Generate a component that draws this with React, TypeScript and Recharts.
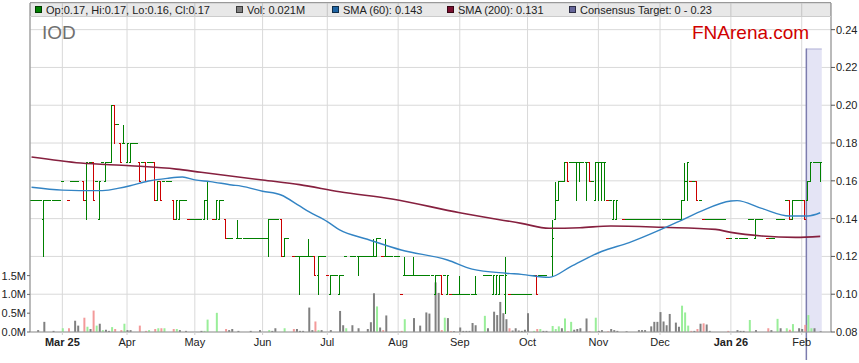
import React from 'react'
import {
  ComposedChart, Bar, Line, XAxis, YAxis, CartesianGrid, ReferenceArea, Cell,
} from 'recharts'

const W = 859
const H = 363
const PRICE_MIN = 0.08
const PRICE_MAX = 0.2541
const VOL_MAX = 8.75
const SLOTS = 260

const GREEN = '#008000'
const RED = '#cc0000'
const VOL_GREEN = '#99ee99'
const VOL_RED = '#f39a9a'
const VOL_GRAY = '#808080'
const FONT = '"Liberation Sans", Arial, sans-serif'

// month gridlines: weekday slot index + label
const monthTicks = [10, 31, 53, 75, 96, 119, 139, 161, 184, 204, 227, 250]
const monthLabels = ['Mar 25', 'Apr', 'May', 'Jun', 'Jul', 'Aug', 'Sep', 'Oct', 'Nov', 'Dec', 'Jan 26', 'Feb']
const boldLabels = ['Mar 25', 'Jan 26']
const priceTicks = [0.08, 0.1, 0.12, 0.14, 0.16, 0.18, 0.2, 0.22, 0.24]
const volTicks = [0, 0.5, 1, 1.5]

// one entry per weekday, in cents: number = flat day, [open, high, low, close], null = no bar
const bars: (number | number[] | null)[] = [
  15, 15, 15, 15, [14, 15, 12, 15], 15, 15, 15, 15, 15,
  16, null, 15, 16, 16, 16, null, [16, 16, 15, 15], [15, 17, 14, 17], 17,
  [17, 17, 15, 15], 16, [14, 16, 14, 16], 17, [16, 17, 16, 17], 17, [17, 20, 17, 20], [20, 20, 18, 19], 19, [18, 18, 17, 17],
  [18, 19, 18, 18], [17, 18, 17, 18], [17, 18, 17, 18], 18, 18, [17, 17, 16, 16], 17, [17, 17, 16, 16], 17, 17,
  [17, 17, 15, 15], [15, 16, 15, 16], [16, 16, 15, 15], 16, 16, 16, [15, 15, 14, 14], [14, 15, 14, 15], [14, 15, 14, 15], 15,
  15, 14, 14, 14, 14, 14, [14, 15, 14, 15], [15, 16, 14, 16], null, 14,
  [14, 15, 14, 15], [14, 15, 14, 15], 15, [14, 14, 13, 13], 13, 13, null, [13, 14, 13, 13], 13, 13,
  13, 13, 13, 13, 13, 13, 13, [13, 14, 12, 14], 14, 14,
  14, [14, 14, 12, 12], [12, 13, 12, 13], 13, null, 12, 12, [12, 12, 10, 12], 12, 12,
  [12, 13, 12, 12], 12, [12, 12, 11, 11], [11, 12, 10, 12], 12, 12, 11, [10, 11, 10, 11], 11, 11,
  [10, 11, 10, 11], 11, 12, null, 12, 12, [12, 12, 11, 12], 12, 12, 12,
  12, [12, 13, 12, 12], [12, 13, 12, 13], 13, 12, [12, 13, 12, 12], 12, 12, 12, 12,
  10, [11, 12, 11, 11], 11, 11, [11, 12, 11, 11], 11, 11, 11, 11, 11,
  11, [10, 11, 10, 11], 11, [11, 11, 10, 10], 11, [10, 11, 10, 11], 10, 10, 10, [10, 11, 10, 10],
  10, 10, 10, 10, [10, 11, 10, 10], null, null, 11, 11, 11,
  [10, 11, 10, 11], [10, 11, 10, 11], [10, 11, 10, 11], 11, [10, 12, 9, 11], 10, 10, 10, 10, 10,
  10, 10, 10, 11, [11, 11, 10, 10], 11, 11, 11, null, [12, 14, 11, 13],
  [14, 16, 14, 15], [15, 16, 15, 16], 16, [16, 17, 16, 17], [17, 17, 16, 16], 17, 17, [17, 17, 15, 17], [17, 17, 16, 17], 17,
  [17, 17, 15, 17], [17, 17, 16, 16], 16, [15, 17, 15, 17], [17, 17, 15, 17], [17, 17, 15, 17], [17, 17, 15, 17], 15, 15, [14, 15, 14, 15],
  [14, 15, 14, 15], null, 14, 14, 14, 14, 14, 14, 14, 14,
  14, 14, 14, 14, 14, 14, 14, 14, 14, 14,
  14, [14, 15, 14, 15], [15, 17, 15, 16], [16, 17, 15, 17], 16, 16, [16, 16, 15, 15], 15, 14, 14,
  14, 14, 14, 14, 14, 14, 13, 13, null, 13,
  13, 13, 13, 14, 14, [13, 14, 13, 14], 14, 14, null, 13,
  13, 13, 14, 14, 14, 15, [15, 15, 14, 14], [14, 15, 14, 15], 15, 15,
  15, [15, 15, 14, 14], [15, 16, 15, 16], [16, 17, 16, 17], 17, 17, [17, 17, 16, 17],
]

// daily volume, hundredths of a million shares
const volumes = [
  0, 0, 5, 0, 27, 0, 0, 3, 0, 0,
  10, 0, 10, 0, 30, 17, 0, 38, 14, 8,
  57, 17, 22, 5, 6, 3, 13, 8, 0, 5,
  22, 5, 5, 0, 0, 17, 0, 3, 5, 0,
  8, 10, 10, 10, 0, 0, 8, 8, 5, 0,
  3, 0, 0, 0, 0, 3, 3, 33, 0, 0,
  51, 0, 0, 8, 5, 8, 0, 3, 0, 0,
  0, 3, 0, 0, 5, 0, 0, 5, 3, 10,
  0, 0, 10, 0, 0, 8, 8, 3, 3, 0,
  65, 5, 28, 5, 5, 0, 0, 5, 0, 0,
  56, 18, 10, 0, 18, 0, 10, 0, 0, 8,
  26, 103, 68, 12, 5, 44, 0, 0, 0, 0,
  3, 34, 0, 0, 37, 0, 17, 0, 52, 49,
  0, 132, 104, 5, 38, 37, 2, 2, 0, 12,
  3, 3, 3, 24, 18, 0, 0, 43, 10, 0,
  54, 45, 80, 50, 34, 10, 4, 10, 4, 3,
  6, 50, 0, 3, 8, 8, 3, 3, 0, 16,
  8, 15, 10, 36, 2, 27, 6, 8, 10, 0,
  36, 2, 0, 38, 3, 5, 0, 2, 8, 5,
  3, 0, 0, 2, 0, 0, 0, 5, 5, 5,
  0, 15, 27, 27, 53, 28, 18, 48, 0, 25,
  14, 70, 52, 17, 3, 3, 8, 22, 23, 20,
  3, 0, 0, 0, 0, 0, 3, 0, 0, 5,
  3, 3, 0, 32, 0, 5, 0, 0, 0, 10,
  5, 0, 35, 10, 0, 10, 6, 21, 0, 10,
  8, 19, 45, 10, 10, 0, 2,
]

// moving averages at a few slots
const sma60Days = [0, 10, 21, 25, 28, 32, 38, 44, 49, 53, 58, 65, 68, 75, 81, 87, 90, 96, 100, 109, 120, 135, 143, 154, 159, 168, 175, 185, 194, 204, 210, 217, 227, 229, 237, 246, 252, 256]
const sma60Values = [0.1566, 0.1551, 0.1548, 0.1551, 0.156, 0.1574, 0.1599, 0.1613, 0.162, 0.1605, 0.1596, 0.1578, 0.1572, 0.1545, 0.1525, 0.1467, 0.1437, 0.1384, 0.134, 0.1291, 0.1234, 0.1181, 0.1133, 0.1111, 0.1105, 0.1089, 0.1146, 0.1226, 0.1273, 0.134, 0.1384, 0.1437, 0.1493, 0.1495, 0.1454, 0.1414, 0.1414, 0.1431]
const sma200Days = [0, 16, 32, 47, 55, 75, 87, 100, 117, 139, 159, 168, 178, 188, 205, 222, 227, 237, 248, 256]
const sma200Values = [0.1726, 0.1694, 0.168, 0.1662, 0.1645, 0.1604, 0.158, 0.1542, 0.1504, 0.1431, 0.1375, 0.1349, 0.1352, 0.1361, 0.1354, 0.1343, 0.1327, 0.1308, 0.1301, 0.1306]

// consensus target band
const targetStart = 252
const targetEnd = 256
const targetHigh = 0.23

const legendItems = [
  { x: 35, color: GREEN, text: 'Op:0.17, Hi:0.17, Lo:0.16, Cl:0.17' },
  { x: 236, color: '#808080', text: 'Vol: 0.021M' },
  { x: 332, color: '#1f64a3', text: 'SMA (60): 0.143' },
  { x: 447, color: '#7a0f2e', text: 'SMA (200): 0.131' },
  { x: 569, color: '#66669a', text: 'Consensus Target: 0 - 0.23' },
]

let prevClose: number | null = null
const data = Array.from({ length: SLOTS }, (_, k) => {
  const row: any = { k }
  const b = k < bars.length ? bars[k] : null
  if (b != null) {
    const [o, h, l, c] = typeof b === 'number' ? [b, b, b, b] : b
    const dir = prevClose == null ? 0 : Math.sign(c - prevClose)
    row.o = o / 100
    row.h = h / 100
    row.l = l / 100
    row.c = c / 100
    row.range = [PRICE_MIN, h / 100]
    row.color = c > o ? GREEN : c < o ? RED : dir < 0 ? RED : GREEN
    row.volColor = dir > 0 ? VOL_GREEN : dir < 0 ? VOL_RED : VOL_GRAY
    prevClose = c
  } else {
    row.volColor = VOL_GRAY
  }
  const v = volumes[k]
  row.vol = v ? v / 100 : null
  const i60 = sma60Days.indexOf(k)
  row.sma60 = i60 >= 0 ? sma60Values[i60] : null
  const i200 = sma200Days.indexOf(k)
  row.sma200 = i200 >= 0 ? sma200Values[i200] : null
  return row
})

function OhlcShape(props: any) {
  const { x, y, width, height, payload } = props
  if (!payload || payload.h == null || !height) return null
  const span = payload.h - PRICE_MIN
  const py = (p: number) => Math.round(y + ((payload.h - p) / span) * height) + 0.5
  const cx = Math.floor(x + width / 2)
  const left = Math.round(x)
  const right = Math.round(x + width)
  const col = payload.color
  return (
    <g shapeRendering="crispEdges" stroke={col} strokeWidth={1}>
      {payload.h > payload.l && (
        <line x1={cx + 0.5} x2={cx + 0.5} y1={py(payload.h)} y2={py(payload.l)} />
      )}
      <line x1={left} x2={cx + 1} y1={py(payload.o)} y2={py(payload.o)} />
      <line x1={cx} x2={right} y1={py(payload.c)} y2={py(payload.c)} />
    </g>
  )
}

function TargetShape(props: any) {
  const { x, y, width, height } = props
  if (x == null) return null
  return (
    <g>
      <rect x={x} y={y} width={width} height={height} fill="#e4e4f5" />
      <line x1={x} x2={x + width} y1={y + 0.5} y2={y + 0.5} stroke="#b4b4d8" />
      <line x1={x} x2={x} y1={y} y2={y + height + 28} stroke="#7c7cae" strokeWidth={1.5} />
    </g>
  )
}

function MonthTick(props: any) {
  const { x, y, payload } = props
  const label = monthLabels[monthTicks.indexOf(payload.value)]
  return (
    <text x={x} y={y + 9} textAnchor="middle" fontSize={11} fill="#222"
      fontWeight={boldLabels.includes(label) ? 700 : 400}>
      {label}
    </text>
  )
}

export default function App() {
  return (
    <div style={{ position: 'absolute', left: 0, top: 0, width: W, height: H, background: '#fff', fontFamily: FONT }}>
      <ComposedChart
        width={W} height={H} data={data}
        margin={{ top: 3, right: 0, bottom: 0, left: 0 }}
        barCategoryGap={0} barGap={0}
        style={{ fontFamily: FONT }}
      >
        <CartesianGrid xAxisId="main" yAxisId="price" stroke="#d9d9d9" />
        <XAxis
          xAxisId="main" dataKey="k" type="category" ticks={monthTicks} interval={0}
          tick={<MonthTick />} tickSize={3} tickLine={{ stroke: '#ccc' }}
          axisLine={{ stroke: '#999' }} height={31}
        />
        <XAxis xAxisId="vol" dataKey="k" type="category" hide />
        <YAxis
          yAxisId="vol" orientation="left" type="number" domain={[0, VOL_MAX]}
          ticks={volTicks} allowDataOverflow width={30} tickSize={3} tickMargin={1}
          tickFormatter={(v: number) => v.toFixed(1) + 'M'}
          tick={{ fontSize: 11, fill: '#222' }}
          axisLine={{ stroke: '#888' }} tickLine={{ stroke: '#666' }}
        />
        <YAxis
          yAxisId="price" orientation="right" type="number" domain={[PRICE_MIN, PRICE_MAX]}
          ticks={priceTicks} allowDataOverflow width={28} tickSize={4} tickMargin={1}
          tickFormatter={(v: number) => v.toFixed(2)}
          tick={{ fontSize: 11, fill: '#222' }}
          axisLine={{ stroke: '#888' }} tickLine={{ stroke: '#555' }}
        />
        <ReferenceArea
          xAxisId="main" yAxisId="price"
          x1={targetStart} x2={targetEnd} y1={PRICE_MIN} y2={targetHigh}
          shape={(p: any) => <TargetShape {...p} />}
        />
        <Bar xAxisId="vol" yAxisId="vol" dataKey="vol" barSize={2} isAnimationActive={false}>
          {data.map((d, i) => <Cell key={i} fill={d.volColor} />)}
        </Bar>
        <Bar
          xAxisId="main" yAxisId="price" dataKey="range" isAnimationActive={false}
          shape={(p: any) => <OhlcShape {...p} />}
        />
        <Line
          xAxisId="main" yAxisId="price" dataKey="sma200" type="monotone" stroke="#86203f"
          strokeWidth={1.6} dot={false} connectNulls isAnimationActive={false}
        />
        <Line
          xAxisId="main" yAxisId="price" dataKey="sma60" type="monotone" stroke="#3384c4"
          strokeWidth={1.4} dot={false} connectNulls isAnimationActive={false}
        />
      </ComposedChart>

      {/* legend band */}
      <div style={{
        position: 'absolute', left: 30, top: 2, width: 801, height: 13,
        background: 'rgba(0,0,0,0.09)', borderTop: '1px solid #999', borderBottom: '1px solid #ccc',
      }} />
      {legendItems.map((it, i) => (
        <React.Fragment key={i}>
          <div style={{
            position: 'absolute', left: it.x, top: 6, width: 5, height: 5,
            background: it.color, border: '1px solid rgba(0,0,0,0.55)',
          }} />
          <div style={{
            position: 'absolute', left: it.x + 11, top: 5, fontSize: 11, lineHeight: 1,
            color: '#222', whiteSpace: 'nowrap',
          }}>{it.text}</div>
        </React.Fragment>
      ))}
      <div style={{ position: 'absolute', left: 42, top: 23, fontSize: 19, lineHeight: 1, color: '#707070' }}>IOD</div>
      <div style={{ position: 'absolute', left: 692, top: 23, fontSize: 19, lineHeight: 1, color: '#d00000' }}>FNArena.com</div>
    </div>
  )
}
